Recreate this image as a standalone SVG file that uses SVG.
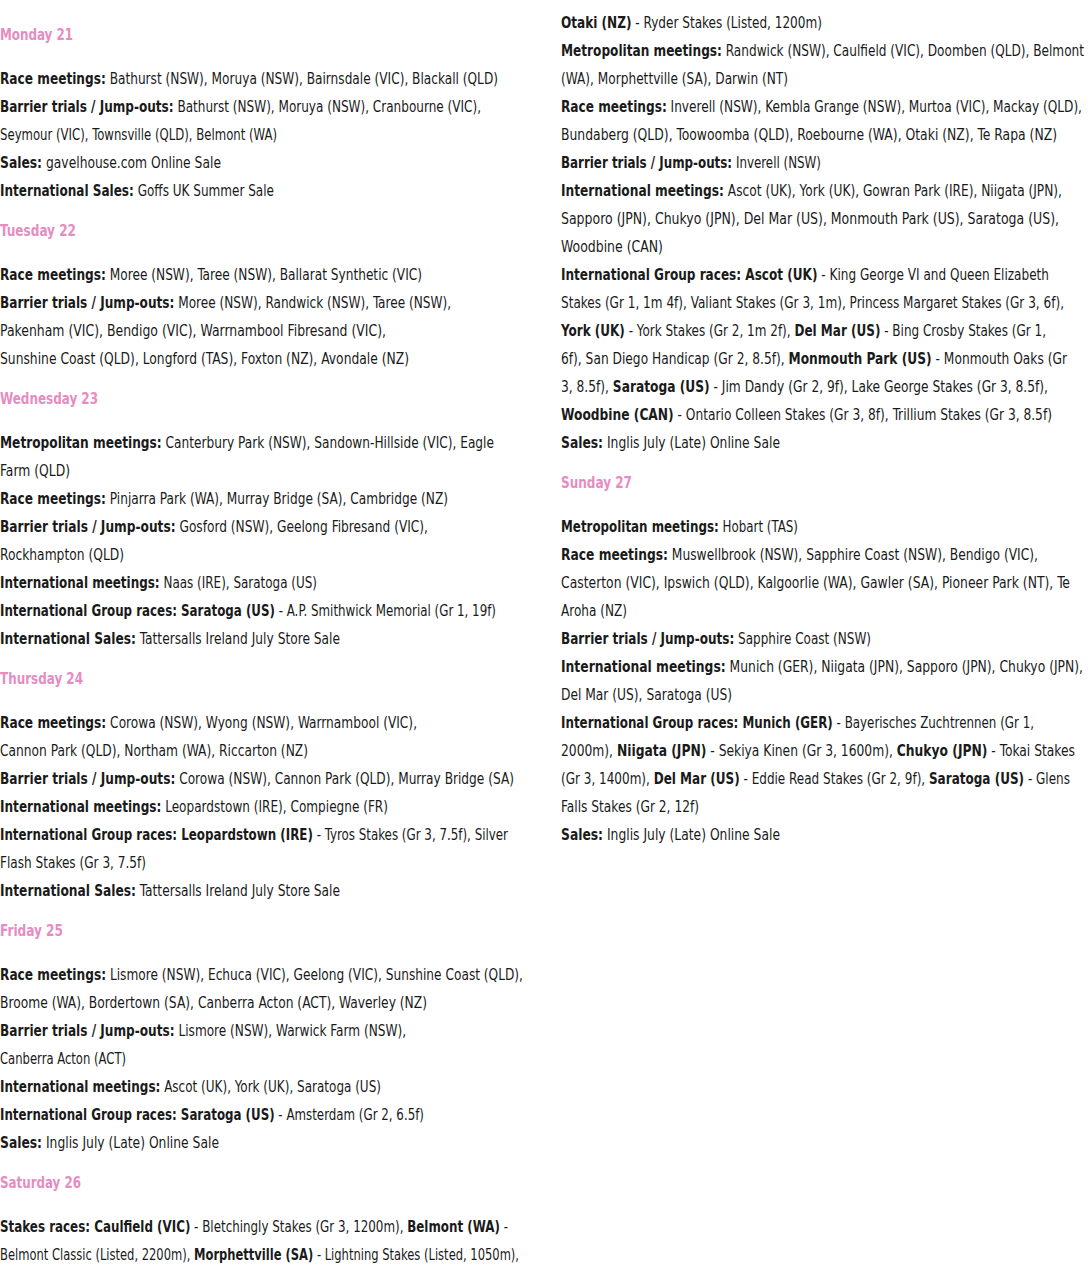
<svg xmlns="http://www.w3.org/2000/svg" width="1088" height="1269" viewBox="0 0 1088 1269">
<style>
text{font-family:"Liberation Sans Narrow","DejaVu Sans Condensed","Liberation Sans",sans-serif;font-size:15px;fill:#1a1a1a}
.h{fill:#e58cc3;font-weight:bold}
.b{font-weight:bold}
</style>
<rect width="1088" height="1269" fill="#fff"/>
<g id="left">
<text class="h" x="0" y="40" textLength="73" lengthAdjust="spacingAndGlyphs">Monday 21</text>
<text x="0" y="84" textLength="498" lengthAdjust="spacingAndGlyphs"><tspan class="b">Race meetings:</tspan> Bathurst (NSW), Moruya (NSW), Bairnsdale (VIC), Blackall (QLD)</text>
<text x="0" y="112" textLength="481" lengthAdjust="spacingAndGlyphs"><tspan class="b">Barrier trials / Jump-outs:</tspan> Bathurst (NSW), Moruya (NSW), Cranbourne (VIC),</text>
<text x="0" y="140" textLength="277" lengthAdjust="spacingAndGlyphs">Seymour (VIC), Townsville (QLD), Belmont (WA)</text>
<text x="0" y="168" textLength="221" lengthAdjust="spacingAndGlyphs"><tspan class="b">Sales:</tspan> gavelhouse.com Online Sale</text>
<text x="0" y="196" textLength="274" lengthAdjust="spacingAndGlyphs"><tspan class="b">International Sales:</tspan> Goffs UK Summer Sale</text>
<text class="h" x="0" y="236" textLength="76" lengthAdjust="spacingAndGlyphs">Tuesday 22</text>
<text x="0" y="280" textLength="422" lengthAdjust="spacingAndGlyphs"><tspan class="b">Race meetings:</tspan> Moree (NSW), Taree (NSW), Ballarat Synthetic (VIC)</text>
<text x="0" y="308" textLength="451" lengthAdjust="spacingAndGlyphs"><tspan class="b">Barrier trials / Jump-outs:</tspan> Moree (NSW), Randwick (NSW), Taree (NSW),</text>
<text x="0" y="336" textLength="386" lengthAdjust="spacingAndGlyphs">Pakenham (VIC), Bendigo (VIC), Warrnambool Fibresand (VIC),</text>
<text x="0" y="364" textLength="409" lengthAdjust="spacingAndGlyphs">Sunshine Coast (QLD), Longford (TAS), Foxton (NZ), Avondale (NZ)</text>
<text class="h" x="0" y="404" textLength="98" lengthAdjust="spacingAndGlyphs">Wednesday 23</text>
<text x="0" y="448" textLength="494" lengthAdjust="spacingAndGlyphs"><tspan class="b">Metropolitan meetings:</tspan> Canterbury Park (NSW), Sandown-Hillside (VIC), Eagle</text>
<text x="0" y="476" textLength="70" lengthAdjust="spacingAndGlyphs">Farm (QLD)</text>
<text x="0" y="504" textLength="448" lengthAdjust="spacingAndGlyphs"><tspan class="b">Race meetings:</tspan> Pinjarra Park (WA), Murray Bridge (SA), Cambridge (NZ)</text>
<text x="0" y="532" textLength="428" lengthAdjust="spacingAndGlyphs"><tspan class="b">Barrier trials / Jump-outs:</tspan> Gosford (NSW), Geelong Fibresand (VIC),</text>
<text x="0" y="560" textLength="124" lengthAdjust="spacingAndGlyphs">Rockhampton (QLD)</text>
<text x="0" y="588" textLength="317" lengthAdjust="spacingAndGlyphs"><tspan class="b">International meetings:</tspan> Naas (IRE), Saratoga (US)</text>
<text x="0" y="616" textLength="496" lengthAdjust="spacingAndGlyphs"><tspan class="b">International Group races: Saratoga (US)</tspan> - A.P. Smithwick Memorial (Gr 1, 19f)</text>
<text x="0" y="644" textLength="340" lengthAdjust="spacingAndGlyphs"><tspan class="b">International Sales:</tspan> Tattersalls Ireland July Store Sale</text>
<text class="h" x="0" y="684" textLength="83" lengthAdjust="spacingAndGlyphs">Thursday 24</text>
<text x="0" y="728" textLength="417" lengthAdjust="spacingAndGlyphs"><tspan class="b">Race meetings:</tspan> Corowa (NSW), Wyong (NSW), Warrnambool (VIC),</text>
<text x="0" y="756" textLength="308" lengthAdjust="spacingAndGlyphs">Cannon Park (QLD), Northam (WA), Riccarton (NZ)</text>
<text x="0" y="784" textLength="514" lengthAdjust="spacingAndGlyphs"><tspan class="b">Barrier trials / Jump-outs:</tspan> Corowa (NSW), Cannon Park (QLD), Murray Bridge (SA)</text>
<text x="0" y="812" textLength="388" lengthAdjust="spacingAndGlyphs"><tspan class="b">International meetings:</tspan> Leopardstown (IRE), Compiegne (FR)</text>
<text x="0" y="840" textLength="508" lengthAdjust="spacingAndGlyphs"><tspan class="b">International Group races: Leopardstown (IRE)</tspan> - Tyros Stakes (Gr 3, 7.5f), Silver</text>
<text x="0" y="868" textLength="146" lengthAdjust="spacingAndGlyphs">Flash Stakes (Gr 3, 7.5f)</text>
<text x="0" y="896" textLength="340" lengthAdjust="spacingAndGlyphs"><tspan class="b">International Sales:</tspan> Tattersalls Ireland July Store Sale</text>
<text class="h" x="0" y="936" textLength="63" lengthAdjust="spacingAndGlyphs">Friday 25</text>
<text x="0" y="980" textLength="523" lengthAdjust="spacingAndGlyphs"><tspan class="b">Race meetings:</tspan> Lismore (NSW), Echuca (VIC), Geelong (VIC), Sunshine Coast (QLD),</text>
<text x="0" y="1008" textLength="427" lengthAdjust="spacingAndGlyphs">Broome (WA), Bordertown (SA), Canberra Acton (ACT), Waverley (NZ)</text>
<text x="0" y="1036" textLength="406" lengthAdjust="spacingAndGlyphs"><tspan class="b">Barrier trials / Jump-outs:</tspan> Lismore (NSW), Warwick Farm (NSW),</text>
<text x="0" y="1064" textLength="126" lengthAdjust="spacingAndGlyphs">Canberra Acton (ACT)</text>
<text x="0" y="1092" textLength="381" lengthAdjust="spacingAndGlyphs"><tspan class="b">International meetings:</tspan> Ascot (UK), York (UK), Saratoga (US)</text>
<text x="0" y="1120" textLength="424" lengthAdjust="spacingAndGlyphs"><tspan class="b">International Group races: Saratoga (US)</tspan> - Amsterdam (Gr 2, 6.5f)</text>
<text x="0" y="1148" textLength="219" lengthAdjust="spacingAndGlyphs"><tspan class="b">Sales:</tspan> Inglis July (Late) Online Sale</text>
<text class="h" x="0" y="1188" textLength="81" lengthAdjust="spacingAndGlyphs">Saturday 26</text>
<text x="0" y="1232" textLength="508" lengthAdjust="spacingAndGlyphs"><tspan class="b">Stakes races: Caulfield (VIC)</tspan> - Bletchingly Stakes (Gr 3, 1200m), <tspan class="b">Belmont (WA)</tspan> -</text>
<text x="0" y="1260" textLength="519" lengthAdjust="spacingAndGlyphs">Belmont Classic (Listed, 2200m), <tspan class="b">Morphettville (SA)</tspan> - Lightning Stakes (Listed, 1050m),</text>
</g>
<g id="right">
<text x="561" y="28" textLength="261" lengthAdjust="spacingAndGlyphs"><tspan class="b">Otaki (NZ)</tspan> - Ryder Stakes (Listed, 1200m)</text>
<text x="561" y="56" textLength="523" lengthAdjust="spacingAndGlyphs"><tspan class="b">Metropolitan meetings:</tspan> Randwick (NSW), Caulfield (VIC), Doomben (QLD), Belmont</text>
<text x="561" y="84" textLength="227" lengthAdjust="spacingAndGlyphs">(WA), Morphettville (SA), Darwin (NT)</text>
<text x="561" y="112" textLength="521" lengthAdjust="spacingAndGlyphs"><tspan class="b">Race meetings:</tspan> Inverell (NSW), Kembla Grange (NSW), Murtoa (VIC), Mackay (QLD),</text>
<text x="561" y="140" textLength="496" lengthAdjust="spacingAndGlyphs">Bundaberg (QLD), Toowoomba (QLD), Roebourne (WA), Otaki (NZ), Te Rapa (NZ)</text>
<text x="561" y="168" textLength="260" lengthAdjust="spacingAndGlyphs"><tspan class="b">Barrier trials / Jump-outs:</tspan> Inverell (NSW)</text>
<text x="561" y="196" textLength="501" lengthAdjust="spacingAndGlyphs"><tspan class="b">International meetings:</tspan> Ascot (UK), York (UK), Gowran Park (IRE), Niigata (JPN),</text>
<text x="561" y="224" textLength="498" lengthAdjust="spacingAndGlyphs">Sapporo (JPN), Chukyo (JPN), Del Mar (US), Monmouth Park (US), Saratoga (US),</text>
<text x="561" y="252" textLength="102" lengthAdjust="spacingAndGlyphs">Woodbine (CAN)</text>
<text x="561" y="280" textLength="488" lengthAdjust="spacingAndGlyphs"><tspan class="b">International Group races: Ascot (UK)</tspan> - King George VI and Queen Elizabeth</text>
<text x="561" y="308" textLength="503" lengthAdjust="spacingAndGlyphs">Stakes (Gr 1, 1m 4f), Valiant Stakes (Gr 3, 1m), Princess Margaret Stakes (Gr 3, 6f),</text>
<text x="561" y="336" textLength="485" lengthAdjust="spacingAndGlyphs"><tspan class="b">York (UK)</tspan> - York Stakes (Gr 2, 1m 2f), <tspan class="b">Del Mar (US)</tspan> - Bing Crosby Stakes (Gr 1,</text>
<text x="561" y="364" textLength="506" lengthAdjust="spacingAndGlyphs">6f), San Diego Handicap (Gr 2, 8.5f), <tspan class="b">Monmouth Park (US)</tspan> - Monmouth Oaks (Gr</text>
<text x="561" y="392" textLength="487" lengthAdjust="spacingAndGlyphs">3, 8.5f), <tspan class="b">Saratoga (US)</tspan> - Jim Dandy (Gr 2, 9f), Lake George Stakes (Gr 3, 8.5f),</text>
<text x="561" y="420" textLength="491" lengthAdjust="spacingAndGlyphs"><tspan class="b">Woodbine (CAN)</tspan> - Ontario Colleen Stakes (Gr 3, 8f), Trillium Stakes (Gr 3, 8.5f)</text>
<text x="561" y="448" textLength="219" lengthAdjust="spacingAndGlyphs"><tspan class="b">Sales:</tspan> Inglis July (Late) Online Sale</text>
<text class="h" x="561" y="488" textLength="71" lengthAdjust="spacingAndGlyphs">Sunday 27</text>
<text x="561" y="532" textLength="237" lengthAdjust="spacingAndGlyphs"><tspan class="b">Metropolitan meetings:</tspan> Hobart (TAS)</text>
<text x="561" y="560" textLength="477" lengthAdjust="spacingAndGlyphs"><tspan class="b">Race meetings:</tspan> Muswellbrook (NSW), Sapphire Coast (NSW), Bendigo (VIC),</text>
<text x="561" y="588" textLength="509" lengthAdjust="spacingAndGlyphs">Casterton (VIC), Ipswich (QLD), Kalgoorlie (WA), Gawler (SA), Pioneer Park (NT), Te</text>
<text x="561" y="616" textLength="66" lengthAdjust="spacingAndGlyphs">Aroha (NZ)</text>
<text x="561" y="644" textLength="310" lengthAdjust="spacingAndGlyphs"><tspan class="b">Barrier trials / Jump-outs:</tspan> Sapphire Coast (NSW)</text>
<text x="561" y="672" textLength="522" lengthAdjust="spacingAndGlyphs"><tspan class="b">International meetings:</tspan> Munich (GER), Niigata (JPN), Sapporo (JPN), Chukyo (JPN),</text>
<text x="561" y="700" textLength="171" lengthAdjust="spacingAndGlyphs">Del Mar (US), Saratoga (US)</text>
<text x="561" y="728" textLength="473" lengthAdjust="spacingAndGlyphs"><tspan class="b">International Group races: Munich (GER)</tspan> - Bayerisches Zuchtrennen (Gr 1,</text>
<text x="561" y="756" textLength="514" lengthAdjust="spacingAndGlyphs">2000m), <tspan class="b">Niigata (JPN)</tspan> - Sekiya Kinen (Gr 3, 1600m), <tspan class="b">Chukyo (JPN)</tspan> - Tokai Stakes</text>
<text x="561" y="784" textLength="509" lengthAdjust="spacingAndGlyphs">(Gr 3, 1400m), <tspan class="b">Del Mar (US)</tspan> - Eddie Read Stakes (Gr 2, 9f), <tspan class="b">Saratoga (US)</tspan> - Glens</text>
<text x="561" y="812" textLength="138" lengthAdjust="spacingAndGlyphs">Falls Stakes (Gr 2, 12f)</text>
<text x="561" y="840" textLength="219" lengthAdjust="spacingAndGlyphs"><tspan class="b">Sales:</tspan> Inglis July (Late) Online Sale</text>
</g>
</svg>
